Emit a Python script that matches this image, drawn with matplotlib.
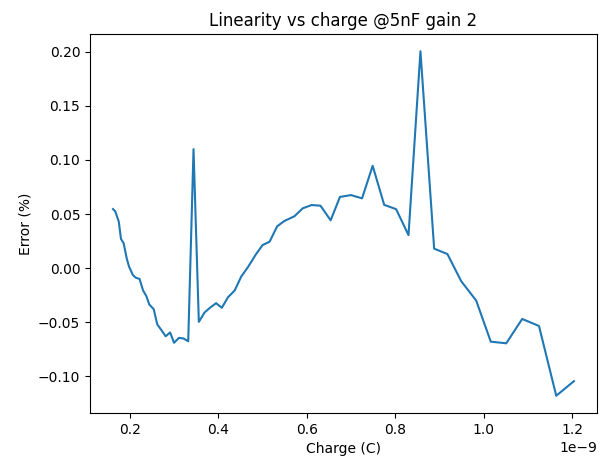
# linearity error vs injected charge (5nF, gain 2)

import numpy as np
import matplotlib
matplotlib.use("Agg")
import matplotlib.pyplot as plt

# charge in units of 1e-9 C
charge_nc = [0.162, 0.167, 0.175, 0.180, 0.186, 0.193, 0.198, 0.207, 0.214, 0.222,
             0.230, 0.237, 0.244, 0.254, 0.262, 0.272, 0.281, 0.291, 0.300, 0.311,
             0.321, 0.332, 0.344, 0.356, 0.369, 0.381, 0.395, 0.408, 0.422, 0.437,
             0.452, 0.467, 0.485, 0.500, 0.516, 0.533, 0.549, 0.572, 0.591, 0.611,
             0.631, 0.654, 0.675, 0.700, 0.725, 0.749, 0.775, 0.802, 0.830, 0.857,
             0.888, 0.918, 0.949, 0.983, 1.016, 1.051, 1.087, 1.125, 1.164, 1.204]
error_pct = [0.0546, 0.0525, 0.0430, 0.0270, 0.0230, 0.0090, 0.0016, -0.0065, -0.0090, -0.0100,
             -0.0207, -0.0256, -0.0336, -0.0380, -0.0520, -0.0577, -0.0630, -0.0595, -0.0690, -0.0645,
             -0.0650, -0.0676, 0.1100, -0.0497, -0.0410, -0.0367, -0.0324, -0.0367, -0.0269, -0.0207,
             -0.0077, 0.0009, 0.0127, 0.0213, 0.0244, 0.0386, 0.0435, 0.0479, 0.0553, 0.0583,
             0.0577, 0.0442, 0.0658, 0.0675, 0.0645, 0.0946, 0.0585, 0.0545, 0.0305, 0.2005,
             0.0180, 0.0130, -0.0120, -0.0300, -0.0680, -0.0695, -0.0470, -0.0535, -0.1180, -0.1045]

charge = np.array(charge_nc) * 1e-9

fig = plt.figure(figsize=(6.15, 4.62), dpi=100)
ax = fig.add_axes([0.1463, 0.1061, 0.8244, 0.8203])
ax.plot(charge, error_pct)
ax.set_title("Linearity vs charge @5nF gain 2")
ax.set_xlabel("Charge (C)")
ax.set_ylabel("Error (%)")
fig.savefig("out.png", dpi=100)
